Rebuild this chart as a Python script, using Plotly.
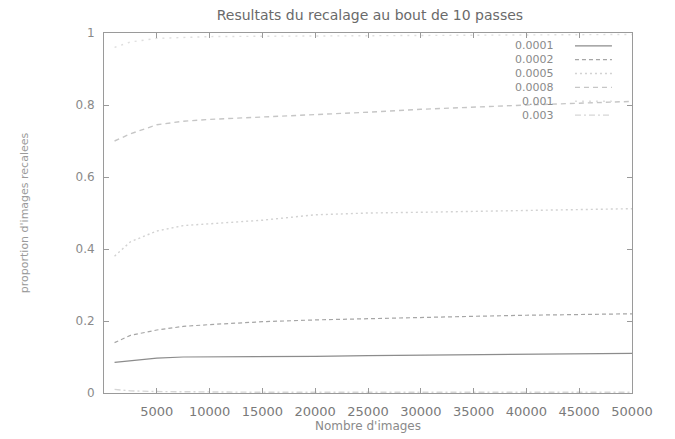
import plotly.graph_objects as go

# ---- data ----
nb_images = [1000, 2500, 5000, 7500, 10000, 15000, 20000, 25000, 30000, 35000, 40000, 45000, 50000]
series_names = ["0.0001", "0.0002", "0.0005", "0.0008", "0.001", "0.003"]
s_00001 = [0.085, 0.090, 0.097, 0.100, 0.100, 0.101, 0.102, 0.104, 0.105, 0.106, 0.107, 0.108, 0.110]
s_00002 = [0.140, 0.160, 0.175, 0.185, 0.190, 0.198, 0.203, 0.207, 0.210, 0.213, 0.216, 0.218, 0.220]
s_00005 = [0.380, 0.420, 0.450, 0.465, 0.470, 0.480, 0.495, 0.500, 0.502, 0.505, 0.507, 0.510, 0.512]
s_00008 = [0.700, 0.720, 0.745, 0.755, 0.760, 0.766, 0.772, 0.780, 0.788, 0.795, 0.800, 0.805, 0.810]
s_0001 = [0.960, 0.975, 0.985, 0.988, 0.990, 0.991, 0.992, 0.993, 0.994, 0.995, 0.995, 0.996, 0.996]
s_0003 = [0.010, 0.006, 0.004, 0.003, 0.003, 0.002, 0.002, 0.002, 0.002, 0.002, 0.002, 0.002, 0.002]
x_ticks = [5000, 10000, 15000, 20000, 25000, 30000, 35000, 40000, 45000, 50000]
y_ticks = [0, 0.2, 0.4, 0.6, 0.8, 1]
y_tick_text = ["0", "0.2", "0.4", "0.6", "0.8", "1"]

all_series = [s_00001, s_00002, s_00005, s_00008, s_0001, s_0003]
styles = [
    dict(color="#8c8c8c", dash="solid", width=1.2),
    dict(color="#a6a6a6", dash="4px,3px", width=1.2),
    dict(color="#d2d2d2", dash="2px,3px", width=1.4),
    dict(color="#c6c6c6", dash="5px,4px", width=1.4),
    dict(color="#dedede", dash="2px,5px", width=1.4),
    dict(color="#d6d6d6", dash="6px,3px,2px,3px", width=1.4),
]

FONT = "DejaVu Sans, Verdana, sans-serif"

fig = go.Figure()
for name, ys, st in zip(series_names, all_series, styles):
    fig.add_trace(go.Scatter(x=nb_images, y=ys, mode="lines", name=name,
                             line=st, showlegend=False))

# gnuplot-style legend (text then sample), drawn in paper coordinates
annotations = []
shapes = []
top_px, row_px, plot_h = 46, 14, 364
for i, (name, st) in enumerate(zip(series_names, styles)):
    yp = 1 - (top_px + i * row_px - 33) / plot_h
    annotations.append(dict(x=0.857, y=yp, xref="paper", yref="paper", text=name,
                            showarrow=False, xanchor="right", yanchor="middle",
                            font=dict(family=FONT, size=11, color="#8a8a8a")))
    shapes.append(dict(type="line", xref="paper", yref="paper", x0=0.892, x1=0.962,
                       y0=yp, y1=yp, line=dict(color=st["color"], dash=st["dash"], width=st["width"])))

fig.update_layout(
    width=675, height=439,
    margin=dict(l=104, r=43, t=33, b=42),
    paper_bgcolor="white", plot_bgcolor="white",
    font=dict(family=FONT, color="#7a7a7a", size=12),
    title=dict(text="Resultats du recalage au bout de 10 passes", x=0.548, xanchor="center",
               y=0.965, yanchor="middle", font=dict(family=FONT, size=14, color="#6a6a6a")),
    annotations=annotations, shapes=shapes,
)
fig.update_xaxes(range=[0, 50000], tickvals=x_ticks, ticktext=[str(v) for v in x_ticks],
                 showgrid=False, zeroline=False, showline=True, linecolor="#9a9a9a", linewidth=1,
                 mirror="ticks", ticks="inside", ticklen=5, tickcolor="#9a9a9a",
                 ticklabelstandoff=6,
                 tickfont=dict(family=FONT, size=13, color="#7a7a7a"),
                 title=dict(text="Nombre d'images", font=dict(family=FONT, size=12, color="#8a8a8a"), standoff=0))
fig.update_yaxes(range=[0, 1], tickvals=y_ticks, ticktext=y_tick_text,
                 showgrid=False, zeroline=False, showline=True, linecolor="#9a9a9a", linewidth=1,
                 mirror="ticks", ticks="inside", ticklen=5, tickcolor="#9a9a9a",
                 ticklabelstandoff=6,
                 tickfont=dict(family=FONT, size=12, color="#8a8a8a"),
                 title=dict(text="proportion d'images recalees", font=dict(family=FONT, size=11, color="#9a9a9a"), standoff=44))

fig.write_html("out.html")
